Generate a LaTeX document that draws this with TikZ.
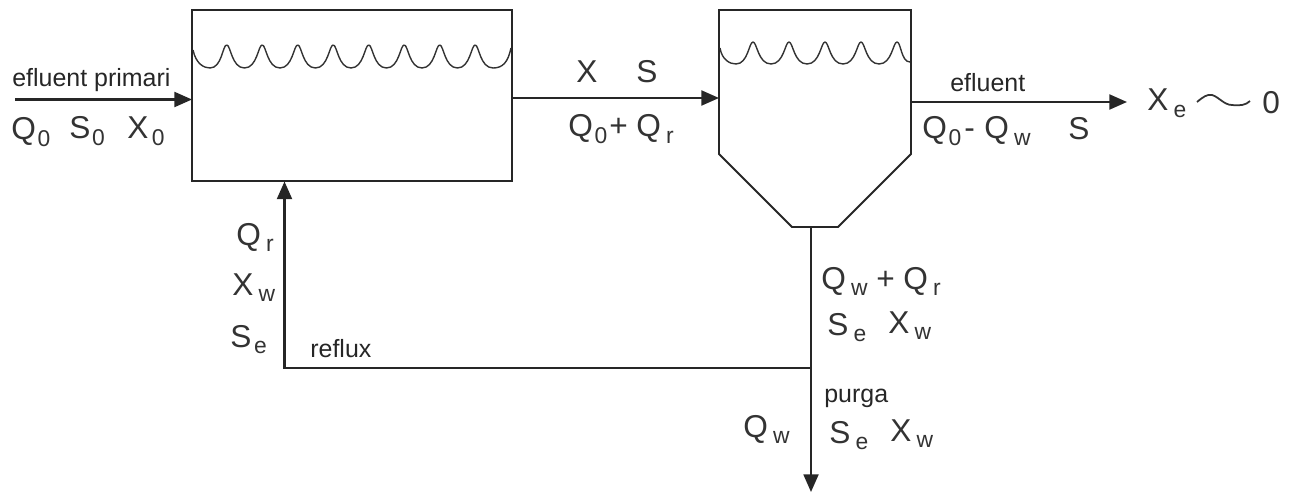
\documentclass[tikz,border=0pt]{standalone}
\usepackage{fontspec}
\setmainfont{Liberation Sans}
\usetikzlibrary{arrows.meta}

% lletra gran amb subindex
\newcommand{\gran}[1]{{\fontsize{18}{18}\selectfont #1}}
\newcommand{\magn}[3][3pt]{\gran{#2}\hspace{#1}\raisebox{-3.5pt}{\fontsize{13}{13}\selectfont #3}}

\tikzset{
	linia/.style={line width=1.2pt, color=black!85},
	fletxa/.style={linia, -{Triangle[length=10pt,width=8.5pt]}},
	paret/.style={line width=1.1pt, color=black!85},
	aigua/.style={line width=0.8pt, color=black!80},
	simbol/.style={anchor=base west, inner sep=0pt, color=black!80},
	rotul/.style={anchor=base west, inner sep=0pt, font=\fontsize{14.2}{15}\selectfont, color=black!85}
}

\begin{document}
\begin{tikzpicture}[x=0.02cm, y=-0.02cm]
	\useasboundingbox (0, 0) rectangle (1294, 493);

	% Reactor
	\node[draw, paret, inner sep=0pt, minimum width=6.4cm, minimum height=3.42cm] (reactor) at (352, 95.5) {};

	% Superficie del reactor
	\draw[aigua] (193, 50) .. controls (196, 64) and (204, 68) .. (210, 68) .. controls (222, 68) and (222.5, 45) .. (226.7, 45);
	\foreach \c in {226.7, 262.2, 297.7, 333.2, 368.7, 404.2, 439.7} {
		\draw[aigua] (\c, 45) .. controls (\c+4, 45) and (\c+5, 68) .. (\c+17.75, 68) .. controls (\c+30.5, 68) and (\c+31.5, 45) .. (\c+35.5, 45);
	}
	\draw[aigua] (475.2, 45) .. controls (479, 45) and (480, 68) .. (493, 68) .. controls (503, 68) and (508, 62) .. (511, 48);

	% Decantador
	\coordinate (dec_nw) at (719, 10);
	\coordinate (dec_ne) at (911, 10);
	\coordinate (dec_w) at (719, 154);
	\coordinate (dec_e) at (911, 154);
	\coordinate (dec_sw) at (792, 227);
	\coordinate (dec_se) at (838, 227);
	\draw[paret] (dec_nw) -- (dec_ne) -- (dec_e) -- (dec_se) -- (dec_sw) -- (dec_w) -- cycle;

	% Superficie del decantador
	\draw[aigua] (720, 48) .. controls (722, 60) and (730, 64) .. (736, 64) .. controls (748, 64) and (749, 42) .. (753, 42);
	\foreach \c in {753, 789, 825, 861} {
		\draw[aigua] (\c, 42) .. controls (\c+4, 42) and (\c+5, 64) .. (\c+18, 64) .. controls (\c+31, 64) and (\c+32, 42) .. (\c+36, 42);
	}
	\draw[aigua] (897, 42) .. controls (901, 42) and (901, 62) .. (910, 62);

	% Punts de les canonades
	\coordinate (entrada) at (15, 99.5);
	\coordinate (react_in) at (192, 99.5);
	\coordinate (react_out) at (512, 98);
	\coordinate (dec_in) at (719, 98);
	\coordinate (dec_out) at (911, 102);
	\coordinate (sortida) at (1127, 102);
	\coordinate (dec_fons) at (811, 227);
	\coordinate (nus) at (811, 368);
	\coordinate (purga) at (811, 492);
	\coordinate (retorn) at (284.5, 368);
	\coordinate (react_fons) at (284.5, 181.5);

	% Canonades
	\draw[fletxa] (entrada) -- (react_in);
	\draw[fletxa] (react_out) -- (dec_in);
	\draw[fletxa] (dec_out) -- (sortida);
	\draw[linia] (dec_fons) -- (nus);
	\draw[fletxa] (nus) -- (purga);
	\draw[fletxa] (nus) -- (retorn) -- (react_fons);

	% Entrada
	\node[rotul] (t_primari) at (12, 87) {efluent primari};
	\node[simbol] (t_q0) at (11, 140) {\magn[1pt]{Q}{0}};
	\node[simbol] (t_s0) at (69, 139) {\magn[1pt]{S}{0}};
	\node[simbol] (t_x0) at (127, 139) {\magn[2pt]{X}{0}};

	% Entre reactor i decantador
	\node[simbol] (t_x) at (576, 83) {\gran{X}};
	\node[simbol] (t_s) at (636, 83) {\gran{S}};
	\node[simbol] (t_q0b) at (568, 137) {\magn[1pt]{Q}{0}};
	\node[simbol] (t_mes) at (609, 137) {\gran{+}};
	\node[simbol] (t_qrb) at (636, 137) {\magn{Q}{r}};

	% Sortida
	\node[rotul] (t_efluent) at (950, 92) {efluent};
	\node[simbol] (t_q0c) at (922, 139) {\magn[1pt]{Q}{0}};
	\node[simbol] (t_menys) at (964, 139) {\gran{-}};
	\node[simbol] (t_qwc) at (984, 139) {\magn{Q}{w}};
	\node[simbol] (t_sf) at (1068, 140) {\gran{S}};
	\node[simbol] (t_xe) at (1147, 111) {\magn{X}{e}};
	\node[simbol] (t_zero) at (1262, 114) {\gran{0}};
	\draw[aigua, line width=1pt] (1197, 102) .. controls (1203, 97) and (1207, 94) .. (1212, 95) .. controls (1219, 97) and (1224, 105) .. (1232, 105) .. controls (1240, 106) and (1246, 105) .. (1250, 101);

	% Retorn
	\node[simbol] (t_qr) at (236, 245) {\magn{Q}{r}};
	\node[simbol] (t_xw) at (232, 295) {\magn{X}{w}};
	\node[simbol] (t_se) at (230, 347) {\magn[1.5pt]{S}{e}};
	\node[rotul] (t_reflux) at (310, 357) {reflux};

	% Sota el decantador
	\node[simbol] (t_qw1) at (821, 289) {\magn{Q}{w}};
	\node[simbol] (t_mes2) at (876, 289) {\gran{+}};
	\node[simbol] (t_qr2) at (903, 289) {\magn{Q}{r}};
	\node[simbol] (t_se2) at (827, 335) {\magn{S}{e}};
	\node[simbol] (t_xw2) at (888, 333) {\magn{X}{w}};
	\node[rotul] (t_purga) at (824, 402) {purga};
	\node[simbol] (t_qw) at (743, 437) {\magn{Q}{w}};
	\node[simbol] (t_se3) at (829, 443) {\magn{S}{e}};
	\node[simbol] (t_xw3) at (890, 441) {\magn{X}{w}};
\end{tikzpicture}
\end{document}
